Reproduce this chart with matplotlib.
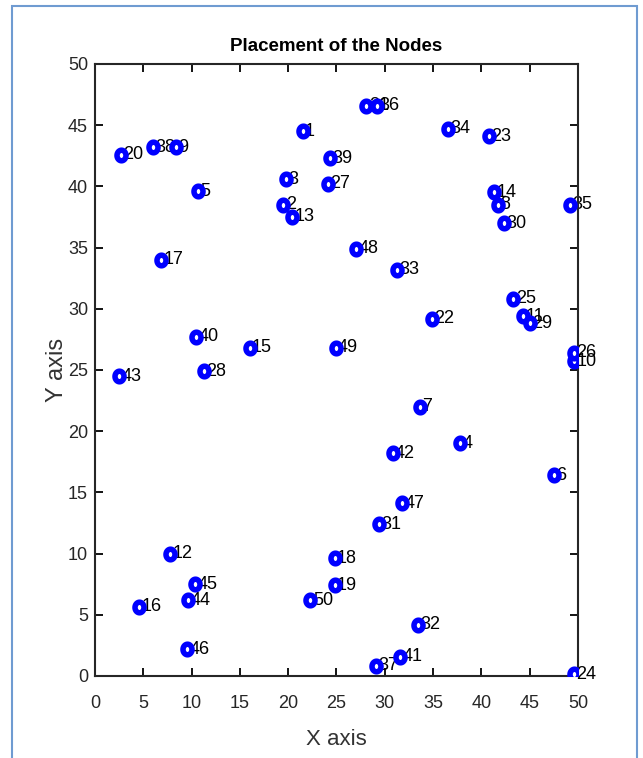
import matplotlib
matplotlib.use('Agg')
import matplotlib.pyplot as plt
import numpy as np
from matplotlib.path import Path
from matplotlib.patches import Rectangle

plt.rcParams['font.family'] = ['Liberation Sans', 'DejaVu Sans']

# node coordinates, node i is at index i-1
node_x = [21.5, 19.5, 19.8, 37.8, 10.7, 47.5, 33.6, 41.7, 8.35, 49.6,
          44.3, 7.76, 20.4, 41.3, 16.0, 4.55, 6.83, 24.8, 24.8, 2.7,
          28.1, 34.9, 40.8, 49.6, 43.3, 49.6, 24.1, 11.3, 45.0, 42.3,
          29.4, 33.4, 31.3, 36.5, 49.2, 29.2, 29.1, 6.04, 24.3, 10.5,
          31.6, 30.8, 2.48, 9.6, 10.35, 9.5, 31.8, 27.0, 24.9, 22.3]
node_y = [44.5, 38.5, 40.6, 19.0, 39.6, 16.4, 22.0, 38.5, 43.2, 25.7,
          29.4, 10.0, 37.5, 39.5, 26.8, 5.66, 34.0, 9.6, 7.4, 42.6,
          46.6, 29.2, 44.1, 0.14, 30.8, 26.4, 40.2, 24.9, 28.8, 37.0,
          12.4, 4.2, 33.2, 44.7, 38.5, 46.6, 0.84, 43.2, 42.3, 27.7,
          1.58, 18.2, 24.5, 6.2, 7.5, 2.2, 14.1, 34.9, 26.8, 6.2]
node_ids = [str(i + 1) for i in range(len(node_x))]

ticks = np.arange(0, 51, 5)

# slightly tall ellipse marker, like the stretched picture
t = np.linspace(0, 2 * np.pi, 60)
ellipse = Path(np.column_stack([0.85 * np.cos(t), np.sin(t)]), closed=True)

fig = plt.figure(figsize=(6.43, 7.58), dpi=100)
fig.patches.append(Rectangle((0.019, -0.01), 0.971, 1.002, transform=fig.transFigure,
                             fill=False, edgecolor='#6f9bd1', linewidth=1.5))
ax = fig.add_axes([0.1477, 0.1082, 0.7512, 0.8074])

ax.plot(node_x, node_y, linestyle='none', marker=ellipse, markersize=7.6,
        markerfacecolor='white', markeredgecolor='#0000ff', markeredgewidth=4.0,
        zorder=3)
for x, y, s in zip(node_x, node_y, node_ids):
    ax.text(x + 0.25, y, s, fontsize=13, ha='left', va='center', color='black',
            zorder=2)

ax.set_xlim(0, 50)
ax.set_ylim(0, 50)
ax.set_xticks(ticks)
ax.set_yticks(ticks)
ax.tick_params(direction='in', length=6, width=1.3, top=True, right=True,
               labelsize=13, labelcolor='#262626')
ax.tick_params(axis='x', pad=14)
ax.tick_params(axis='y', pad=5)
for sp in ax.spines.values():
    sp.set_linewidth(1.5)
    sp.set_color('#262626')

ax.set_title('Placement of the Nodes', fontsize=13.5, fontweight='bold', pad=9)
ax.set_xlabel('X axis', fontsize=16, color='#333333', labelpad=12)
ax.set_ylabel('Y axis', fontsize=17, color='#333333', labelpad=0)

plt.savefig('out.png', dpi=100)
